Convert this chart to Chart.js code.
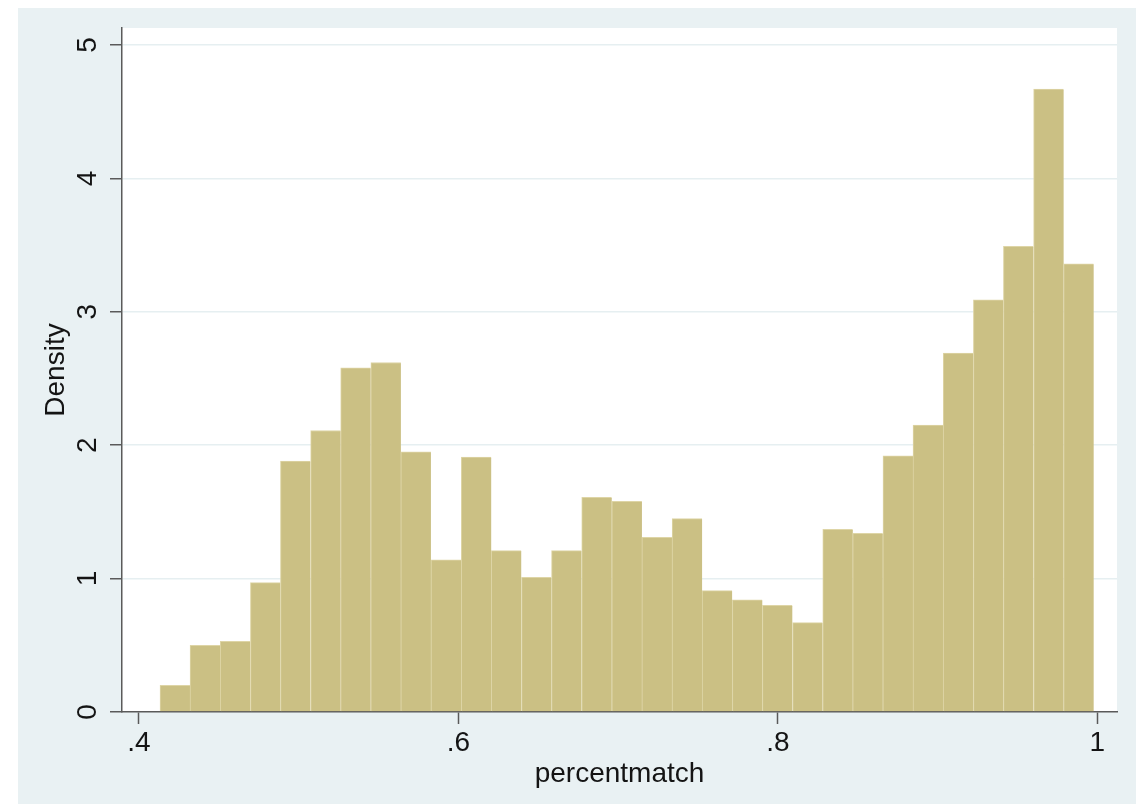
<!DOCTYPE html>
<html>
<head>
<meta charset="utf-8">
<title>percentmatch histogram</title>
<script src="https://cdn.jsdelivr.net/npm/chart.js@4.4.1/dist/chart.umd.min.js"></script>
<style>
  html, body { margin: 0; padding: 0; background: #ffffff; }
  #frame {
    position: absolute; left: 18px; top: 8px;
    width: 1118px; height: 796px;
    background: #e9f1f3;
  }
  #frame canvas { display: block; }
</style>
</head>
<body>
<div id="frame"><canvas id="hist"></canvas></div>
<script>
// Histogram bins of percentmatch: bin midpoints and their densities
const binMidpoints = [
  0.4226, 0.4414, 0.4603, 0.4792, 0.4980, 0.5169, 0.5357, 0.5546,
  0.5734, 0.5923, 0.6112, 0.6300, 0.6489, 0.6677, 0.6866, 0.7055,
  0.7243, 0.7432, 0.7620, 0.7809, 0.7997, 0.8186, 0.8375, 0.8563,
  0.8752, 0.8940, 0.9129, 0.9318, 0.9506, 0.9695, 0.9883
];
const densities = [
  0.20, 0.50, 0.53, 0.97, 1.88, 2.11, 2.58, 2.62,
  1.95, 1.14, 1.91, 1.21, 1.01, 1.21, 1.61, 1.58,
  1.31, 1.45, 0.91, 0.84, 0.80, 0.67, 1.37, 1.34,
  1.92, 2.15, 2.69, 3.09, 3.49, 4.67, 3.36
];

// Axis ranges and tick labels
const xRange = [0.3894, 1.0123];
const yRange = [0, 5.127];
const xTickValues = [0.4, 0.6, 0.8, 1.0];
const xTickLabels = ['.4', '.6', '.8', '1'];
const yTickLabels = ['0', '1', '2', '3', '4', '5'];

const FONT = '"Liberation Sans", Arial, Helvetica, sans-serif';
const TEXT = '#141414';
const AXIS = '#5a5a5a';

// White plot region behind the bars
const plotRegion = {
  id: 'plotRegion',
  beforeDraw(chart) {
    const { ctx, chartArea: a } = chart;
    ctx.save();
    ctx.fillStyle = '#ffffff';
    ctx.fillRect(a.left, a.top, a.right - a.left, a.bottom - a.top);
    ctx.restore();
  }
};

new Chart(document.getElementById('hist'), {
  type: 'bar',
  data: {
    datasets: [{
      data: binMidpoints.map((x, i) => ({ x: x, y: densities[i] })),
      backgroundColor: '#cbc084',
      borderColor: '#ded5a6',
      borderWidth: { top: 1, left: 1, right: 0, bottom: 0 },
      borderSkipped: 'start',
      barPercentage: 1,
      categoryPercentage: 1
    }]
  },
  options: {
    responsive: true,
    maintainAspectRatio: false,
    animation: false,
    devicePixelRatio: 1,
    layout: { padding: { top: 20, right: 19, left: 0, bottom: 0 } },
    plugins: {
      legend: { display: false },
      tooltip: { enabled: false }
    },
    scales: {
      x: {
        type: 'linear',
        offset: false,
        min: xRange[0],
        max: xRange[1],
        z: 1,
        afterBuildTicks(scale) {
          scale.ticks = xTickValues.map(v => ({ value: v }));
        },
        afterFit(scale) {
          scale.height = 92;
          scale.paddingLeft = 0;
          scale.paddingRight = 0;
        },
        ticks: {
          autoSkip: false,
          maxRotation: 0,
          minRotation: 0,
          padding: 2,
          color: TEXT,
          font: { family: FONT, size: 28 },
          callback: (v) => {
            const i = xTickValues.findIndex(t => Math.abs(t - v) < 1e-6);
            return i >= 0 ? xTickLabels[i] : '';
          }
        },
        grid: {
          offset: false,
          drawOnChartArea: false,
          drawTicks: true,
          tickLength: 12,
          tickColor: AXIS,
          tickWidth: 1.5
        },
        border: { display: true, color: AXIS, width: 1.5 },
        title: {
          display: true,
          text: 'percentmatch',
          color: TEXT,
          font: { family: FONT, size: 28 },
          padding: { top: 0, bottom: 13 }
        }
      },
      y: {
        type: 'linear',
        min: yRange[0],
        max: yRange[1],
        afterBuildTicks(scale) {
          scale.ticks = yTickLabels.map(t => ({ value: Number(t) }));
        },
        afterFit(scale) {
          scale.width = 104;
          scale.paddingTop = 0;
          scale.paddingBottom = 0;
        },
        ticks: {
          autoSkip: false,
          minRotation: 90,
          maxRotation: 90,
          crossAlign: 'center',
          padding: 14,
          color: TEXT,
          font: { family: FONT, size: 28 },
          callback: (v) => yTickLabels[yTickLabels.indexOf(String(v))] ?? ''
        },
        grid: {
          color: (c) => (c.tick && c.tick.value === 0 ? 'rgba(0,0,0,0)' : '#e6eff1'),
          lineWidth: 1.5,
          drawTicks: true,
          tickLength: 12,
          tickColor: AXIS,
          tickWidth: 1.5
        },
        border: { display: true, color: AXIS, width: 1.5 },
        title: {
          display: true,
          text: 'Density',
          color: TEXT,
          font: { family: FONT, size: 28 },
          padding: { top: 21, bottom: 0 }
        }
      }
    }
  },
  plugins: [plotRegion]
});
</script>
</body>
</html>
